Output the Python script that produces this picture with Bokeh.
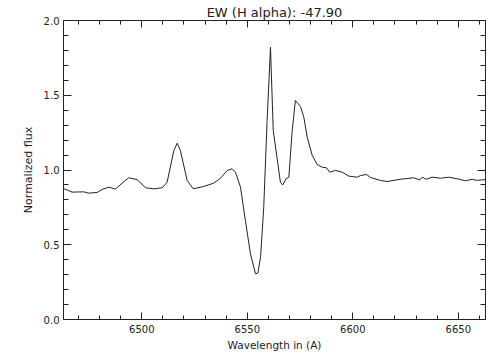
from bokeh.plotting import figure
from bokeh.models import (Range1d, SingleIntervalTicker, LinearAxis, PrintfTickFormatter, Title)
from bokeh.embed import file_html
from bokeh.resources import INLINE

# Data
wavelength = [6462.9, 6467.0, 6472.5, 6474.9, 6478.9, 6481.2, 6484.4, 6487.5, 6490.7, 6493.8,
              6497.8, 6501.8, 6505.7, 6509.7, 6512.0, 6515.2, 6516.8, 6518.3, 6521.5, 6524.4,
              6529.4, 6534.1, 6537.3, 6540.5, 6542.8, 6544.4, 6546.8, 6549.1, 6551.5, 6553.9,
              6555.0, 6556.3, 6557.8, 6559.4, 6561.0, 6562.3, 6564.5, 6565.7, 6566.8, 6568.4,
              6569.7, 6571.3, 6572.8, 6575.2, 6576.8, 6578.4, 6580.8, 6583.1, 6585.5, 6587.5,
              6589.1, 6591.8, 6595.0, 6598.1, 6602.1, 6603.7, 6606.5, 6608.4, 6613.1, 6616.3,
              6622.6, 6628.9, 6631.8, 6632.9, 6634.8, 6637.6, 6641.6, 6645.5, 6649.5, 6653.4,
              6656.6, 6659.0, 6661.0, 6662.9]
flux = [0.876, 0.852, 0.854, 0.845, 0.850, 0.870, 0.885, 0.872, 0.912, 0.948,
        0.936, 0.881, 0.874, 0.881, 0.918, 1.130, 1.179, 1.130, 0.930, 0.874,
        0.890, 0.912, 0.945, 0.997, 1.008, 0.985, 0.885, 0.662, 0.440, 0.306,
        0.310, 0.417, 0.751, 1.331, 1.821, 1.264, 1.041, 0.918, 0.900, 0.941,
        0.952, 1.264, 1.465, 1.425, 1.353, 1.219, 1.097, 1.037, 1.019, 1.015,
        0.985, 0.997, 0.985, 0.959, 0.952, 0.963, 0.970, 0.950, 0.930, 0.923,
        0.938, 0.948, 0.934, 0.952, 0.938, 0.952, 0.945, 0.952, 0.941, 0.928,
        0.938, 0.930, 0.934, 0.935]

x_lo, x_hi = 6462.9, 6662.9
y_lo, y_hi = 0.0, 2.0
x_ticks = [6500, 6550, 6600, 6650]
y_ticks = [0.0, 0.5, 1.0, 1.5, 2.0]
title_text = "EW (H alpha): -47.90"

FONT = "DejaVu Sans"
COL = "#222222"

p = figure(width=504, height=360, output_backend="svg", toolbar_location=None,
           x_range=Range1d(x_lo, x_hi), y_range=Range1d(y_lo, y_hi),
           x_axis_type=None, y_axis_type=None,
           min_border_left=63, min_border_right=19, min_border_top=20, min_border_bottom=41)
p.grid.visible = False
p.outline_line_color = None
p.background_fill_color = "white"
p.border_fill_color = "white"

def make_axis(kind, labels):
    if kind == "x":
        t = SingleIntervalTicker(interval=50, num_minor_ticks=5)
        ax = LinearAxis(ticker=t)
        ax.major_tick_in = 7
        ax.minor_tick_in = 4
        ticks = x_ticks
    else:
        t = SingleIntervalTicker(interval=0.5, num_minor_ticks=5)
        ax = LinearAxis(ticker=t, formatter=PrintfTickFormatter(format="%.1f"))
        ax.major_tick_in = 8
        ax.minor_tick_in = 5
        ticks = y_ticks
    ax.major_tick_out = 0
    ax.minor_tick_out = 0
    ax.axis_line_color = COL
    ax.major_tick_line_color = COL
    ax.minor_tick_line_color = COL
    ax.major_label_text_font = FONT
    ax.major_label_text_color = COL
    ax.major_label_text_font_size = "10px"
    ax.axis_label_text_font = FONT
    ax.axis_label_text_font_style = "normal"
    ax.axis_label_text_color = COL
    if labels:
        ax.major_label_standoff = 5 if kind == "x" else 4
    else:
        ax.major_label_overrides = {v: "" for v in ticks}
        ax.major_label_standoff = 0
    return ax

xb = make_axis("x", True)
xb.axis_label = "Wavelength in (A)"
xb.axis_label_text_font_size = "10.5px"
xb.axis_label_standoff = 3
p.add_layout(xb, "below")

xt = make_axis("x", False)
p.add_layout(xt, "above")

yl = make_axis("y", True)
yl.axis_label = "Normalized flux"
yl.axis_label_text_font_size = "11px"
yl.axis_label_standoff = 6
p.add_layout(yl, "left")

yr = make_axis("y", False)
p.add_layout(yr, "right")

p.line(wavelength, flux, line_color=COL, line_width=1)

t = Title(text=title_text, text_font=FONT, text_font_size="13px", text_font_style="normal",
          text_color=COL, align="center", offset=15, standoff=2)
p.add_layout(t, "above")

open("out.html", "w").write(file_html(p, INLINE))
